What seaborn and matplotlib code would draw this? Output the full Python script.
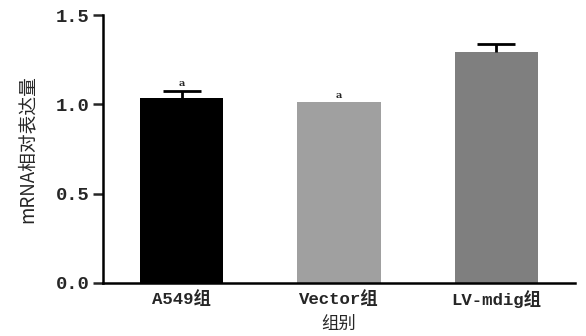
import numpy as np
import pandas as pd
import matplotlib
matplotlib.use('Agg')
import matplotlib.pyplot as plt
import seaborn as sns

groups = ['A549组', 'Vector组', 'LV-mdig组']
values = [1.035, 1.011, 1.292]
err_up = [0.042, 0.0, 0.045]
bar_colors = ['#000000', '#a0a0a0', '#7f7f7f']
marks = ['a', 'a', '']
yticks = [0.0, 0.5, 1.0, 1.5]

sns.set_theme(style='white')
plt.rcParams['font.family'] = ['Liberation Mono', 'Noto Sans CJK SC', 'DejaVu Sans']

df = pd.DataFrame({'group': groups, 'value': values})

fig = plt.figure(figsize=(5.86, 3.36), dpi=100)
ax = fig.add_axes([0.176, 0.158, 0.805, 0.797])

sns.barplot(data=df, x='group', y='value', hue='group', palette=bar_colors,
            width=0.53, legend=False, ax=ax, saturation=1, edgecolor='none')

# upper error bars only, skip groups without error
x = np.arange(len(groups))
keep = [i for i, e in enumerate(err_up) if e > 0]
xs = x[keep]
vs = np.array(values)[keep]
es = np.array(err_up)[keep]
_, caps, _ = ax.errorbar(xs, vs, yerr=[np.zeros(len(xs)), es], fmt='none',
                         ecolor='black', elinewidth=2, capsize=14, capthick=2,
                         zorder=3)
caps[0].set_visible(False)

for xi, v, e, m in zip(x, values, err_up, marks):
    if m:
        ax.text(xi, v + e + 0.012, m, ha='center', va='bottom', fontsize=7,
                fontweight='bold', family=['DejaVu Serif'])

ax.set_xlim(-0.5, 2.5)
ax.set_ylim(0, 1.5)
ax.set_yticks(yticks)
ax.set_yticklabels([f'{t:.1f}' for t in yticks])

for s in ['top', 'right']:
    ax.spines[s].set_visible(False)
for s in ['left', 'bottom']:
    ax.spines[s].set_linewidth(1.8)
    ax.spines[s].set_color('black')

ax.tick_params(axis='y', direction='out', length=7, width=1.8, labelsize=13.5, pad=3,
               left=True)
ax.tick_params(axis='x', direction='in', length=5, width=1.8, labelsize=12.5, pad=5,
               bottom=True)
for lab in ax.get_xticklabels() + ax.get_yticklabels():
    lab.set_fontweight('bold')

ax.set_ylabel('mRNA相对表达量', fontsize=13.5, family=['Noto Sans CJK SC'], labelpad=13)
ax.set_xlabel('组别', fontsize=12.5, family=['Noto Sans CJK SC'], labelpad=5)

fig.savefig('out.png', dpi=100)
